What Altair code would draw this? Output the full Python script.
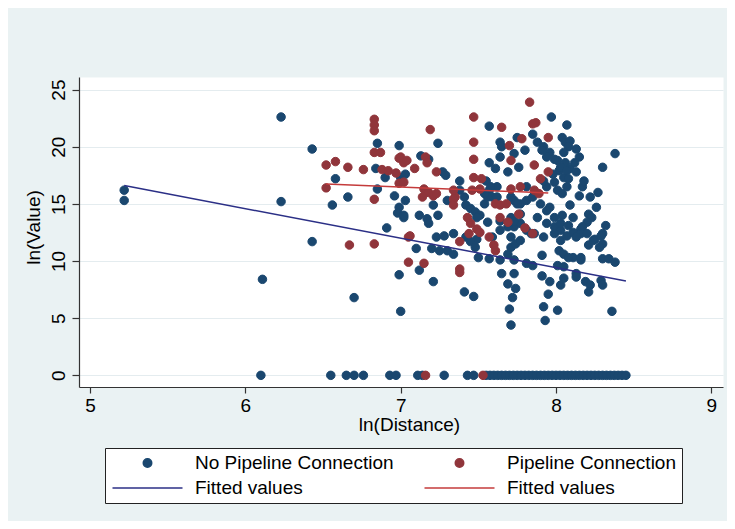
import altair as alt
import pandas as pd

NO_PIPE = "No Pipeline Connection"
PIPE = "Pipeline Connection"
FIT_NO = "Fitted values (no pipeline)"
FIT_YES = "Fitted values (pipeline)"

# ln(Distance), ln(Value) pairs
blue_pts = [
    (5.22, 16.2), (5.22, 15.3),
    (6.11, 8.4), (6.23, 22.6), (6.23, 15.2), (6.43, 19.8), (6.43, 11.7),
    (6.56, 14.9), (6.58, 17.2), (6.66, 15.6), (6.70, 6.8),
    (6.84, 18.1), (6.85, 16.3), (6.85, 20.3), (6.90, 17.3), (6.91, 12.9),
    (6.96, 15.7), (6.99, 14.7), (6.98, 14.2), (7.02, 13.8), (6.99, 20.1), (6.99, 8.8), (7.00, 5.6),
    (7.00, 17.3), (7.03, 17.6), (7.57, 21.8), (7.24, 20.3), (7.64, 20.4), (7.65, 20.0), (7.57, 18.6),
    (7.61, 18.1), (7.64, 19.1), (7.69, 17.8), (7.75, 20.8), (7.80, 19.7), (7.73, 19.4), (7.76, 18.2),
    (7.13, 19.2), (7.18, 18.9), (7.27, 17.8), (7.29, 17.5), (7.21, 14.9), (7.03, 15.3), (7.02, 14.0),
    (7.12, 14.0), (7.17, 13.7), (7.18, 13.3), (7.24, 14.0), (7.30, 15.3), (7.38, 17.0), (7.38, 16.2),
    (7.41, 15.6), (7.42, 14.9), (7.45, 14.6), (7.48, 14.3), (7.51, 14.0), (7.55, 17.0), (7.57, 16.2),
    (7.59, 15.6), (7.62, 16.5), (7.54, 15.0), (7.56, 15.6), (7.73, 15.3), (7.77, 15.0), (7.81, 15.3),
    (7.64, 13.5), (7.71, 13.8), (7.73, 13.0), (7.77, 13.3), (7.81, 12.7), (7.23, 12.1), (7.28, 12.2),
    (7.34, 12.4), (7.42, 12.1), (7.49, 11.9), (7.59, 12.1), (7.71, 12.1),
    (7.97, 22.6), (8.07, 21.9), (7.85, 21.1), (7.88, 20.4), (7.92, 20.0), (7.96, 19.5), (7.94, 19.1),
    (8.04, 20.8), (8.06, 20.4), (8.09, 20.5), (8.08, 20.0), (8.13, 19.8), (8.15, 19.1), (8.05, 19.5),
    (8.01, 18.8), (8.06, 18.6), (8.09, 18.1), (8.38, 19.4), (8.30, 18.2), (8.02, 17.9), (8.05, 17.3),
    (8.08, 17.2), (8.13, 17.8), (7.99, 16.9), (7.94, 16.5), (8.01, 16.2), (8.04, 15.9), (8.07, 16.5),
    (8.17, 16.5), (8.15, 15.7), (8.22, 15.6), (8.09, 14.9), (8.04, 14.0), (7.96, 14.7), (7.90, 15.0),
    (8.21, 14.1), (8.23, 13.8), (8.20, 13.4), (8.32, 13.1), (8.30, 12.4), (8.25, 11.9), (7.88, 13.8),
    (7.94, 13.3), (7.99, 13.0), (8.03, 12.7), (8.08, 13.1), (8.14, 12.4), (8.16, 12.8),
    (7.10, 11.1), (7.20, 11.1), (7.25, 10.9), (7.30, 10.9), (7.34, 10.6), (7.45, 11.7), (7.48, 11.2),
    (7.50, 10.3), (7.57, 10.2), (7.64, 10.1), (7.69, 10.6), (7.71, 11.2), (7.74, 11.5), (7.73, 10.1),
    (7.12, 9.2), (7.21, 8.2), (7.41, 7.3), (7.47, 6.9), (7.65, 8.9), (7.73, 8.9), (7.69, 8.0),
    (7.74, 7.6), (7.72, 6.8), (7.70, 5.8), (7.71, 4.4), (7.81, 9.8),
    (7.86, 12.4), (7.92, 12.1), (7.99, 12.4), (8.03, 11.8), (8.07, 12.2), (8.11, 12.5), (8.16, 12.4),
    (8.21, 11.4), (8.24, 11.8), (8.29, 12.2), (8.30, 11.5), (7.91, 10.5), (8.02, 10.9), (8.05, 10.6),
    (8.11, 10.3), (8.16, 10.1), (8.30, 10.2), (8.34, 10.2), (8.38, 9.9), (7.85, 9.6), (8.01, 9.6),
    (8.05, 9.5), (8.13, 8.9), (8.13, 8.6), (7.91, 8.7), (7.96, 8.2), (8.05, 8.5), (8.03, 7.9),
    (8.19, 8.2), (8.22, 7.9), (8.29, 8.3), (8.30, 7.9), (8.21, 7.3), (7.95, 7.1), (7.92, 6.0),
    (8.01, 5.7), (7.93, 4.8), (8.36, 5.6), (8.28, 11.2),
    (7.91, 19.7), (7.99, 18.9), (8.03, 18.2), (8.07, 17.9), (7.98, 17.6), (7.92, 17.0), (7.81, 16.5),
    (7.85, 15.6), (7.94, 14.4), (7.99, 13.8), (8.03, 13.3), (7.71, 15.6), (7.75, 15.0), (7.77, 14.1),
    (7.73, 13.5), (7.69, 13.0), (7.58, 16.5), (7.62, 15.6), (7.54, 15.9), (7.49, 13.8), (7.56, 13.4),
    (7.64, 12.7), (7.77, 11.8), (7.84, 12.4), (8.11, 13.8), (8.17, 13.0), (8.13, 12.1), (8.20, 12.4),
    (8.16, 10.3), (8.08, 10.3), (8.12, 18.6), (8.18, 17.0), (8.26, 14.7), (8.27, 16.0),
]
blue_zero_x = [
    6.10, 6.55, 6.65, 6.70, 6.76, 6.93, 6.97, 7.11, 7.14, 7.28, 7.43, 7.47,
    7.55, 7.575, 7.60, 7.625, 7.65, 7.675, 7.70, 7.725, 7.75, 7.775, 7.80, 7.825,
    7.85, 7.875, 7.90, 7.925, 7.95, 7.975, 8.00, 8.025, 8.05, 8.075, 8.10, 8.125,
    8.15, 8.175, 8.20, 8.225, 8.25, 8.275, 8.30, 8.325, 8.35, 8.375, 8.40, 8.425, 8.45,
]
red_pts = [
    (6.52, 18.4), (6.58, 18.7), (6.66, 18.2), (6.76, 18.0), (6.52, 16.4), (6.83, 15.4),
    (6.67, 11.4), (6.83, 11.5), (6.83, 22.4), (6.83, 21.9), (6.83, 21.4), (6.83, 19.5),
    (6.87, 19.5), (6.88, 18.0), (6.92, 17.9), (6.97, 17.7), (6.99, 19.0), (7.02, 18.6),
    (6.99, 16.8), (7.02, 16.9), (7.05, 12.1), (7.05, 9.9),
    (7.47, 22.6), (7.65, 21.7), (7.19, 21.5), (7.47, 20.4), (7.47, 18.9), (7.47, 17.3),
    (7.71, 18.8), (7.78, 20.7), (7.83, 23.9), (7.16, 19.1), (7.17, 18.6), (7.00, 19.1),
    (7.04, 18.8), (7.09, 18.1), (7.23, 17.8), (7.15, 16.3), (7.18, 16.0), (7.21, 15.7),
    (7.14, 15.6), (7.23, 15.9), (7.34, 15.4), (7.34, 14.9), (7.46, 16.2), (7.51, 16.3),
    (7.52, 17.2), (7.61, 15.0), (7.64, 14.9), (7.68, 15.0), (7.71, 16.3), (7.77, 16.5),
    (7.43, 13.8), (7.45, 13.3), (7.49, 12.8), (7.64, 13.8), (7.69, 13.4), (7.76, 14.1),
    (7.06, 12.2), (7.87, 22.1), (7.85, 22.0), (7.95, 20.8), (7.86, 18.4), (7.90, 17.2),
    (7.95, 17.8), (7.86, 16.2), (7.89, 15.9), (7.85, 12.4), (7.80, 12.9),
    (7.38, 11.7), (7.44, 12.4), (7.51, 12.5), (7.57, 12.1), (7.60, 11.4), (7.61, 10.9),
    (7.15, 9.8), (7.38, 9.3), (7.38, 9.0), (7.70, 20.1), (7.35, 15.6), (7.34, 16.2),
]
red_zero_x = [7.16, 7.53]

# fitted-line endpoints
fit_no_x = [5.22, 8.45]
fit_no_y = [16.6, 8.25]
fit_yes_x = [6.52, 7.95]
fit_yes_y = [16.75, 15.95]

rows = []
for x, y in blue_pts:
    rows.append({"x": x, "y": y, "series": NO_PIPE})
for x in blue_zero_x:
    rows.append({"x": x, "y": 0.0, "series": NO_PIPE})
for x, y in red_pts:
    rows.append({"x": x, "y": y, "series": PIPE})
for x in red_zero_x:
    rows.append({"x": x, "y": 0.0, "series": PIPE})
pts = pd.DataFrame(rows)

line_rows = []
for x, y in zip(fit_no_x, fit_no_y):
    line_rows.append({"x": x, "y": y, "series": FIT_NO})
for x, y in zip(fit_yes_x, fit_yes_y):
    line_rows.append({"x": x, "y": y, "series": FIT_YES})
lines = pd.DataFrame(line_rows)

domain = [NO_PIPE, PIPE, FIT_NO, FIT_YES]
colors = ["#1a476f", "#90353b", "#2b2f86", "#c43b3b"]
line_path = "M-8.25,0H8.25"
shapes = ["circle", "circle", line_path, line_path]
FONT = "Liberation Sans"

legend = alt.Legend(
    title=None, orient="none", legendX=26, legendY=371, columns=2, direction="horizontal",
    columnPadding=28, rowPadding=5, padding=5, clipHeight=20,
    fillColor="white", strokeColor="#222222",
    symbolSize=72, symbolStrokeWidth=1.5, symbolOffset=28, labelOffset=38,
    labelFontSize=19, labelFont=FONT, labelColor="black", labelLimit=400,
    labelExpr="indexof(datum.label, 'Fitted') === 0 ? 'Fitted values' : datum.label",
)

x_enc = alt.X(
    "x:Q",
    scale=alt.Scale(domain=[4.929, 9.075], nice=False, zero=False),
    axis=alt.Axis(values=[5, 6, 7, 8, 9], title="ln(Distance)", grid=False,
                  tickSize=6, labelPadding=3, labelFlush=False,
                  titleY=43, titleX=330, titleBaseline="alphabetic"),
)
y_enc = alt.Y(
    "y:Q",
    scale=alt.Scale(domain=[-1.02, 26.1], nice=False, zero=False),
    axis=alt.Axis(values=[0, 5, 10, 15, 20, 25], title="ln(Value)", grid=True,
                  gridColor="#e4ecef", gridWidth=1.2,
                  tickSize=7, labelPadding=8, labelAngle=270, labelAlign="center",
                  labelBaseline="alphabetic", labelFlush=False,
                  titleAngle=270, titleX=-40, titleY=150, titleAlign="center",
                  titleBaseline="alphabetic"),
)

color_scale = alt.Scale(domain=domain, range=colors)

points = alt.Chart(pts).mark_point(filled=True, size=72, strokeWidth=1, opacity=1).encode(
    x=x_enc,
    y=y_enc,
    color=alt.Color("series:N", scale=color_scale, legend=legend),
    stroke=alt.Stroke("series:N", scale=color_scale, legend=legend),
    shape=alt.Shape("series:N", scale=alt.Scale(domain=domain, range=shapes), legend=legend),
)

fits = alt.Chart(lines).mark_line(strokeWidth=1.5).encode(
    x=x_enc,
    y=y_enc,
    color=alt.Color("series:N", scale=color_scale, legend=legend),
)

chart = (
    alt.layer(points, fits)
    .properties(
        width=644, height=310, background="#eaf2f3",
        padding={"left": 71, "top": 69, "right": 4, "bottom": 134},
        autosize=alt.AutoSizeParams(type="none"),
    )
    .configure(font=FONT)
    .configure_view(fill="white", stroke="transparent")
    .configure_axis(
        domainColor="#333333", domainWidth=1.2, tickColor="#333333", tickWidth=1.2,
        labelFontSize=19, labelColor="black", labelFont=FONT,
        titleFontSize=19, titleFontWeight="normal", titleColor="black", titleFont=FONT,
    )
)

chart.save("out.html", embed_options={"renderer": "svg", "actions": False})
